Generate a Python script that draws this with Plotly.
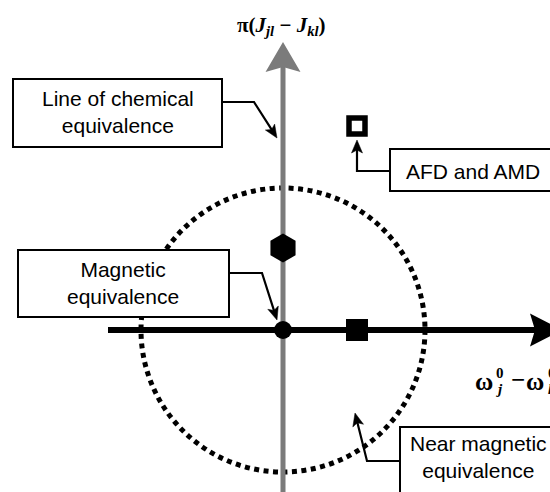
import math
import plotly.graph_objects as go

# Spin-pair states placed in the (chemical-shift difference, coupling difference) plane
state_names = ["magnetic equivalence", "chemical shift only", "coupling only", "AFD and AMD"]
state_dx = [0, 74, 0, 74]          # ω_j^0 − ω_k^0
state_dj = [0, 0, 82, 204]         # π(J_jl − J_kl)
state_symbols = ["circle", "square", "hexagon", "square-open"]
state_sizes = [18, 22, 29, 16]

# Radius of the near-magnetic-equivalence region around the origin
near_radius = [142]

X_RANGE = [-283, 267]
Y_RANGE = [-162, 330]
GRAY = "#7b7b7b"
TEXT_FONT = dict(family="Liberation Sans, Arial, sans-serif", size=21, color="black")
MATH_FONT = dict(family="Liberation Serif, Times New Roman, serif", size=21, color="black")


def head_path(tip, tail, length, half_width, notch):
    """Filled arrowhead pointing from tail towards tip."""
    dx, dy = tip[0] - tail[0], tip[1] - tail[1]
    n = math.hypot(dx, dy)
    ux, uy = dx / n, dy / n
    px_, py_ = -uy, ux
    bx, by = tip[0] - ux * length, tip[1] - uy * length
    c1 = (bx + px_ * half_width, by + py_ * half_width)
    c2 = (bx - px_ * half_width, by - py_ * half_width)
    nt = (tip[0] - ux * (length - notch), tip[1] - uy * (length - notch))
    return (f"M{tip[0]},{tip[1]} L{c1[0]},{c1[1]} L{nt[0]},{nt[1]} "
            f"L{c2[0]},{c2[1]} Z")


shapes = []

# dotted boundary of near magnetic equivalence
r = near_radius[0]
shapes.append(dict(type="circle", xref="x", yref="y", x0=-r, x1=r, y0=-r, y1=r,
                   line=dict(color="black", width=5, dash="5px,4.5px"), layer="below"))

# vertical axis (grey) with arrowhead
v_tip = (0, 288)
shapes.append(dict(type="line", xref="x", yref="y", x0=0, x1=0, y0=Y_RANGE[0] - 5, y1=v_tip[1] - 20,
                   line=dict(color=GRAY, width=5), layer="below"))
shapes.append(dict(type="path", xref="x", yref="y",
                   path=head_path(v_tip, (0, 0), 30, 17.5, 5),
                   fillcolor=GRAY, line=dict(color=GRAY, width=0), layer="below"))

# horizontal axis (black) with arrowhead
h_tip = (279, 0)
shapes.append(dict(type="line", xref="x", yref="y", x0=-175, x1=h_tip[0] - 20, y0=0, y1=0,
                   line=dict(color="black", width=6), layer="below"))
shapes.append(dict(type="path", xref="x", yref="y",
                   path=head_path(h_tip, (0, 0), 32, 16.5, 5),
                   fillcolor="black", line=dict(color="black", width=0), layer="below"))

# label boxes: (x0, x1, y0, y1, text centre x, text centre y, text)
boxes = [
    (-270, -61, 183, 251, -165, 218, "Line of chemical<br>equivalence"),
    (-265, -54, 13, 80, -160, 47, "Magnetic<br>equivalence"),
    (107, 275, 139, 181, 190, 159, "AFD and AMD"),
    (117, 275, -170, -97, 195, -127, "Near magnetic<br>equivalence"),
]
annotations = []
for x0, x1, y0, y1, tx, ty, txt in boxes:
    shapes.append(dict(type="rect", xref="x", yref="y", x0=x0, x1=x1, y0=y0, y1=y1,
                       fillcolor="white", line=dict(color="black", width=2), layer="below"))
    annotations.append(dict(x=tx, y=ty, xref="x", yref="y", text=txt, showarrow=False,
                            font=TEXT_FONT, align="center", xanchor="center", yanchor="middle"))

# leader lines with arrowheads
leaders = [
    [(-61, 228), (-29, 228), (-6, 192)],
    [(-54, 57), (-21, 57), (-6, 10)],
    [(107, 159), (74, 159), (74, 190)],
    [(117, -131), (84, -131), (72, -83)],
]
for pts in leaders:
    tip, prev = pts[-1], pts[-2]
    dx, dy = tip[0] - prev[0], tip[1] - prev[1]
    n = math.hypot(dx, dy)
    end = (tip[0] - dx / n * 9, tip[1] - dy / n * 9)
    line_pts = pts[:-1] + [end]
    path = "M" + " L".join(f"{p[0]},{p[1]}" for p in line_pts)
    shapes.append(dict(type="path", xref="x", yref="y", path=path,
                       line=dict(color="black", width=2.2), layer="above"))
    shapes.append(dict(type="path", xref="x", yref="y",
                       path=head_path(tip, prev, 13, 5.5, 3),
                       fillcolor="black", line=dict(color="black", width=0.5), layer="above"))

# vertical axis title
annotations.append(dict(x=-2, y=304, xref="x", yref="y",
                        text="<b>π(<i>J</i><sub><i>jl</i></sub> − <i>J</i><sub><i>kl</i></sub>)</b>",
                        showarrow=False, font=MATH_FONT, xanchor="center", yanchor="middle"))

# horizontal axis title ω_j^0 − ω_k^0, built piece by piece so that the
# superscript and subscript indices stack above each other
big = dict(MATH_FONT, size=25)
idx = dict(MATH_FONT, size=15)
title_pieces = [
    (190, -51, "<b>ω</b>", big),
    (211, -43, "<b>0</b>", idx),
    (211, -59, "<b><i>j</i></b>", idx),
    (226, -49, "<b>−</b>", big),
    (241, -51, "<b>ω</b>", big),
    (263, -43, "<b>0</b>", idx),
    (263, -59, "<b><i>k</i></b>", idx),
]
for x, y, txt, f in title_pieces:
    annotations.append(dict(x=x, y=y, xref="x", yref="y", text=txt, showarrow=False,
                            font=f, xanchor="left", yanchor="middle"))

fig = go.Figure()
fig.add_trace(go.Scatter(
    x=state_dx, y=state_dj, mode="markers", text=state_names, hoverinfo="text",
    marker=dict(symbol=state_symbols, size=state_sizes, color="black", opacity=1,
                line=dict(color="black", width=[0, 0, 0, 5.5])),
    cliponaxis=False, showlegend=False,
))

fig.update_layout(
    width=550, height=492, margin=dict(l=0, r=0, t=0, b=0),
    paper_bgcolor="white", plot_bgcolor="white",
    xaxis=dict(range=X_RANGE, visible=False, fixedrange=True),
    yaxis=dict(range=Y_RANGE, visible=False, fixedrange=True),
    shapes=shapes, annotations=annotations,
)

fig.write_html("out.html")
